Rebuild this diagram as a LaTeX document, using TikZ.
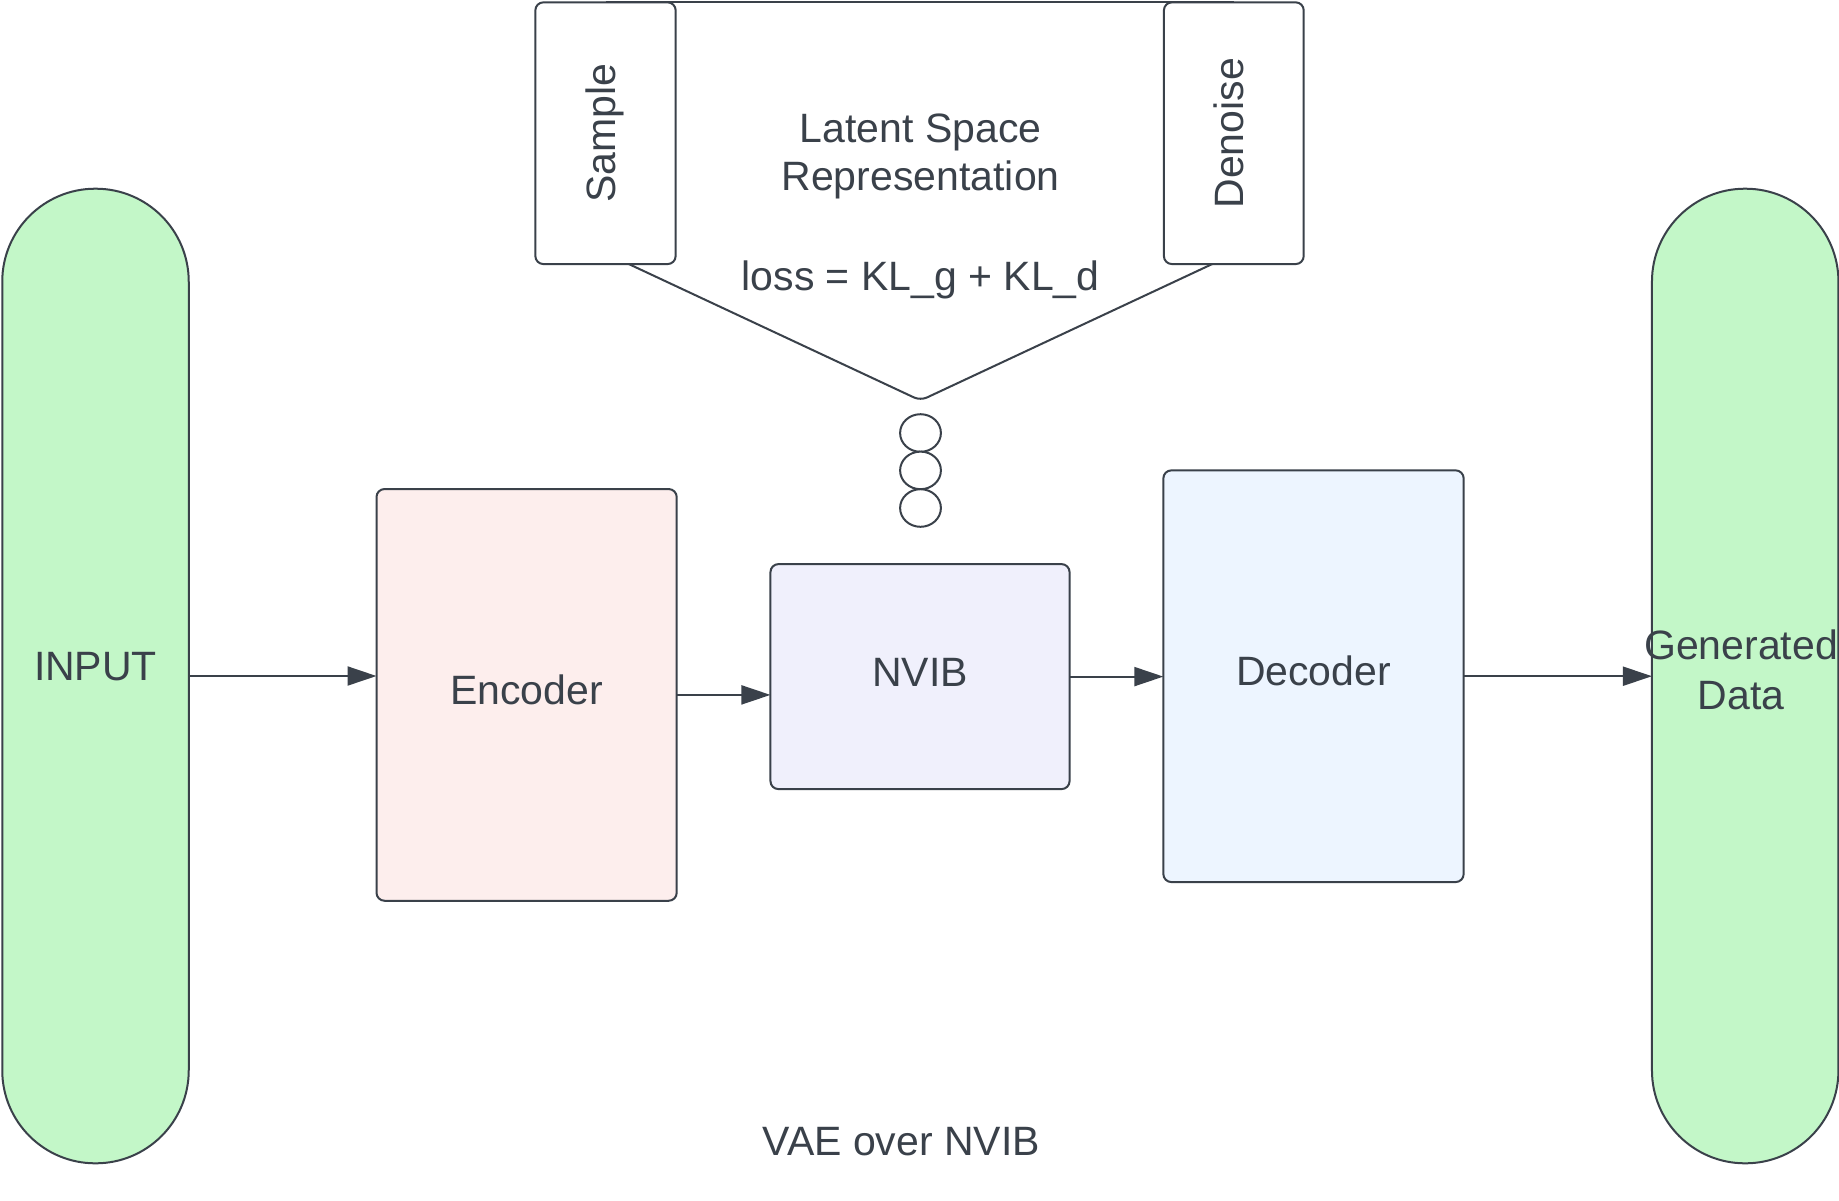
\documentclass[tikz,border=0pt]{standalone}
\usepackage{fontspec}
\setmainfont{Liberation Sans}
\usetikzlibrary{arrows.meta,shapes.geometric}
\definecolor{strokec}{HTML}{3A414A}
\definecolor{textc}{HTML}{3A414A}
\definecolor{pillg}{HTML}{C3F7C8}
\definecolor{encf}{HTML}{FDEEED}
\definecolor{nvibf}{HTML}{F0F0FC}
\definecolor{decf}{HTML}{EDF5FF}
\begin{document}
\begin{tikzpicture}[x=1pt,y=-1pt,
  lbl/.style={text=textc, font=\fontsize{41pt}{50pt}\selectfont, inner sep=0pt, outer sep=0pt, text height=29.5pt, text depth=10.3pt, align=center},
  pill/.style={draw=strokec, fill=pillg, line width=2pt, rounded corners=93pt, minimum width=186.5pt, minimum height=974.6pt, inner sep=0pt, outer sep=0pt},
  blk/.style={draw=strokec, line width=2pt, rounded corners=8pt, inner sep=0pt, outer sep=0pt, text=textc, font=\fontsize{41pt}{50pt}\selectfont, text height=29.5pt, text depth=10.3pt},
  conn/.style={draw=strokec, line width=2pt, -{Triangle[length=29pt,width=19pt]}},
  plainline/.style={draw=strokec, line width=2pt},
  bead/.style={draw=strokec, line width=2pt, ellipse, minimum width=40.8pt, minimum height=37.6pt, inner sep=0pt, outer sep=0pt, fill=white}
]
\useasboundingbox (0,0) rectangle (1839,1200);
\fill[white] (0,0) rectangle (1839,1200);

% pills
\node[pill] (inp) at (95.5,676) {};
\node[lbl] (inplbl) at (95.5,670.9) {INPUT};
\node[pill] (gen) at (1745.2,676) {};
\node[lbl] (genlbl) at (1741,700.1) {Generated\\Data};

% main blocks
\node[blk, fill=encf, minimum width=300.2pt, minimum height=411.7pt] (enc) at (526.6,694.9) {Encoder};
\node[blk, fill=nvibf, minimum width=299.1pt, minimum height=225pt] (nvib) at (920,676.6) {NVIB};
\node[blk, fill=decf, minimum width=300.3pt, minimum height=411.7pt] (dec) at (1313.5,676.2) {Decoder};

% connectors
\draw[conn] (inp.east) -- (inp.east -| enc.west);
\draw[conn] (enc.east) -- (enc.east -| nvib.west);
\draw[conn] (nvib.east) -- (nvib.east -| dec.west);
\draw[conn] (dec.east) -- (dec.east -| gen.west);

% thought bubble
\coordinate (vl) at (628.7,264);
\coordinate (apex) at (920.5,400.5);
\coordinate (vr) at (1212.3,264);
\coordinate (tl) at (605.5,2.3);
\coordinate (tr) at (1233.8,2.3);
\draw[plainline] (tl) -- (tr);
\draw[plainline, rounded corners=7pt] (vl) -- (apex) -- (vr);

\node[blk, fill=white, minimum width=140.3pt, minimum height=261.7pt] (sample) at (605.5,133.2) {};
\node[blk, fill=white, minimum width=139.8pt, minimum height=261.7pt] (denoise) at (1233.8,133.2) {};
\node[lbl, rotate=90] (samplelbl) at (sample.center) {Sample};
\node[lbl, rotate=90] (denoiselbl) at (denoise.center) {Denoise};

\node[lbl, font=\fontsize{41pt}{48.5pt}\selectfont] (latent) at (920.6,180.9) {Latent Space\\Representation};
\node[lbl] (loss) at (920.6,280.9) {loss = KL\_g + KL\_d};

\node[bead] (c1) at (920.5,433) {};
\node[bead] (c2) at (920.5,470.4) {};
\node[bead] (c3) at (920.5,508) {};

\node[lbl] (title) at (901.3,1146) {VAE over NVIB};
\end{tikzpicture}
\end{document}
